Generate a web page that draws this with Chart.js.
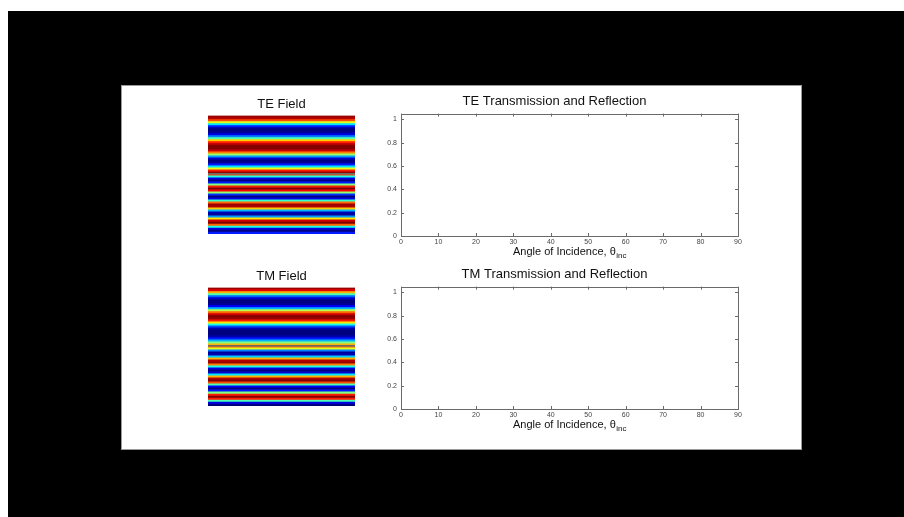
<!DOCTYPE html>
<html>
<head>
<meta charset="utf-8">
<script src="https://cdn.jsdelivr.net/npm/chart.js@4.4.0/dist/chart.umd.min.js"></script>
<style>
body { margin: 0; background: #fff; width: 904px; height: 517px; overflow: hidden; position: relative; }
#screen { position: absolute; left: 8px; top: 11px; width: 896px; height: 506px; background: #000; }
#panel { position: absolute; left: 121px; top: 85px; width: 679px; height: 363px; background: #fff; border: 1px solid #9a9a9a; }
.box { position: absolute; }
</style>
</head>
<body>
<div id="screen"></div>
<div id="panel"></div>
<div class="box" style="left:208px; top:91px; width:147px; height:143px;"><canvas id="teField"></canvas></div>
<div class="box" style="left:208px; top:263px; width:147px; height:143px;"><canvas id="tmField"></canvas></div>
<div class="box" style="left:360px; top:88px; width:400px; height:178px;"><canvas id="tePlot"></canvas></div>
<div class="box" style="left:360px; top:261px; width:400px; height:178px;"><canvas id="tmPlot"></canvas></div>
<script>
let teField = [
    0.95, 0.9, 0.6, 0.2, -0.3, -0.7, -0.95, -1, -0.95, -0.8,
    -0.5, -0.1, 0.35, 0.7, 0.9, 1, 1, 0.85, 0.5, 0.05,
    -0.45, -0.85, -1, -0.95, -0.7, -0.3, 0.2, 0.7, 0.95,
    0.6, -0.2, -0.8, -1, -0.7, 0, 0.7, 1, 0.75, 0.05,
    -0.65, -1, -0.8, -0.15, 0.55, 0.95, 0.9, 0.35, -0.4, -0.9,
    -0.95, -0.45, 0.3, 0.85, 1, 0.55, -0.2, -0.8, -1, -0.7
];
let tmField = [
    0.95, 0.8, 0.4, -0.1, -0.55, -0.85, -1, -1, -0.95, -0.75,
    -0.4, 0.1, 0.55, 0.85, 1, 0.95, 0.7, 0.3, -0.2, -0.6,
    -0.9, -1, -1, -1, -0.9, -0.7, -0.4, 0, 0.4,
    0.55, 0.2, -0.5, -0.95, -0.9, -0.35, 0.4, 0.9, 0.95, 0.5,
    -0.2, -0.8, -1, -0.85, -0.3, 0.4, 0.9, 1, 0.6, -0.1,
    -0.75, -1, -0.7, 0, 0.7, 1, 0.7, -0.1, -0.8, -1
];
// row where the layer interface (grey line) sits
let teInterfaceRow = 29;
let tmInterfaceRow = 29;

let angleTicks = [0, 10, 20, 30, 40, 50, 60, 70, 80, 90];
let fractionTicks = [0, 0.2, 0.4, 0.6, 0.8, 1];
// the curves are not drawn yet in the picture
let teTransmission = [];
let teReflection = [];
let tmTransmission = [];
let tmReflection = [];

const FONT = '"Liberation Sans", Arial, Helvetica, sans-serif';

function jet(v) {
    let t = (v + 1) / 2;
    let c = x => Math.round(255 * Math.max(0, Math.min(1, x)));
    return 'rgb(' + c(1.5 - Math.abs(4 * t - 3)) + ',' + c(1.5 - Math.abs(4 * t - 2)) + ',' + c(1.5 - Math.abs(4 * t - 1)) + ')';
}

const interfaceLine = {
    id: 'interfaceLine',
    afterDraw(chart, args, opts) {
        let y = chart.scales.y;
        let py = (y.getPixelForValue(opts.row - 1) + y.getPixelForValue(opts.row)) / 2;
        let ctx = chart.ctx;
        ctx.save();
        ctx.strokeStyle = '#6b6b6b';
        ctx.lineWidth = 1.6;
        ctx.beginPath();
        ctx.moveTo(chart.chartArea.left, py);
        ctx.lineTo(chart.chartArea.right, py);
        ctx.stroke();
        ctx.restore();
    }
};

function fieldChart(id, title, values, row) {
    new Chart(document.getElementById(id), {
        type: 'bar',
        data: {
            labels: values.map((v, i) => i),
            datasets: [{
                data: values.map(() => 1),
                backgroundColor: values.map(jet),
                borderWidth: 0,
                categoryPercentage: 1,
                barPercentage: 1
            }]
        },
        options: {
            indexAxis: 'y',
            responsive: true,
            maintainAspectRatio: false,
            animation: false,
            events: [],
            layout: { padding: 0 },
            scales: {
                x: { display: false, min: 0, max: 1 },
                y: { display: false }
            },
            plugins: {
                legend: { display: false },
                tooltip: { enabled: false },
                title: {
                    display: true,
                    text: title,
                    color: '#111',
                    font: { family: FONT, size: 13, weight: 'normal' },
                    padding: { top: 6, bottom: 3 }
                },
                interfaceLine: { row: row }
            }
        },
        plugins: [interfaceLine]
    });
}

const matlabAxes = {
    id: 'matlabAxes',
    afterDraw(chart, args, opts) {
        let ctx = chart.ctx;
        let a = chart.chartArea;
        let x = chart.scales.x, y = chart.scales.y;
        ctx.save();
        ctx.strokeStyle = '#6a6a6a';
        ctx.lineWidth = 1;
        ctx.strokeRect(Math.round(a.left) + 0.5, Math.round(a.top) + 0.5, Math.round(a.width), Math.round(a.height));
        ctx.beginPath();
        x.ticks.forEach(t => {
            let px = Math.round(x.getPixelForValue(t.value)) + 0.5;
            ctx.moveTo(px, a.bottom); ctx.lineTo(px, a.bottom - 3);
            ctx.moveTo(px, a.top); ctx.lineTo(px, a.top + 3);
        });
        y.ticks.forEach(t => {
            let py = Math.round(y.getPixelForValue(t.value)) + 0.5;
            ctx.moveTo(a.left, py); ctx.lineTo(a.left + 3, py);
            ctx.moveTo(a.right, py); ctx.lineTo(a.right - 3, py);
        });
        ctx.stroke();

        // x label with subscript
        ctx.fillStyle = '#111';
        ctx.textBaseline = 'middle';
        ctx.font = '11px ' + FONT;
        let w1 = ctx.measureText(opts.label).width;
        ctx.font = '8px ' + FONT;
        let w2 = ctx.measureText(opts.sub).width;
        let cx = (a.left + a.right) / 2;
        let sx = cx - (w1 + w2) / 2;
        let ly = a.bottom + 16;
        ctx.font = '11px ' + FONT;
        ctx.fillText(opts.label, sx, ly);
        ctx.font = '8px ' + FONT;
        ctx.fillText(opts.sub, sx + w1 + 0.5, ly + 4);
        ctx.restore();
    }
};

function plotChart(id, title, trans, refl) {
    new Chart(document.getElementById(id), {
        type: 'line',
        data: {
            datasets: [
                { label: 'Transmission', data: trans, borderColor: '#0000ff', pointRadius: 0 },
                { label: 'Reflection', data: refl, borderColor: '#ff0000', pointRadius: 0 }
            ]
        },
        options: {
            responsive: true,
            maintainAspectRatio: false,
            animation: false,
            events: [],
            layout: { padding: { left: 11, right: 22, top: 0, bottom: 0 } },
            scales: {
                x: {
                    type: 'linear',
                    min: 0,
                    max: 90,
                    afterBuildTicks: s => { s.ticks = angleTicks.map(v => ({ value: v })); },
                    afterFit: s => { s.height = 30; },
                    grid: { display: false, drawTicks: false },
                    border: { display: false },
                    ticks: { color: '#444', font: { family: FONT, size: 7 }, padding: 2, maxRotation: 0, autoSkip: false, callback: v => String(v) }
                },
                y: {
                    type: 'linear',
                    min: 0,
                    max: 1.05,
                    afterBuildTicks: s => { s.ticks = fractionTicks.map(v => ({ value: v })); },
                    afterFit: s => { s.width = 30; },
                    grid: { display: false, drawTicks: false },
                    border: { display: false },
                    ticks: { color: '#444', font: { family: FONT, size: 7 }, padding: 4, autoSkip: false, callback: v => String(v) }
                }
            },
            plugins: {
                legend: { display: false },
                tooltip: { enabled: false },
                title: {
                    display: true,
                    text: title,
                    color: '#111',
                    font: { family: FONT, size: 13, weight: 'normal' },
                    padding: { top: 6, bottom: 4 }
                },
                matlabAxes: { label: 'Angle of Incidence, θ', sub: 'inc' }
            }
        },
        plugins: [matlabAxes]
    });
}

fieldChart('teField', 'TE Field', teField, teInterfaceRow);
fieldChart('tmField', 'TM Field', tmField, tmInterfaceRow);
plotChart('tePlot', 'TE Transmission and Reflection', teTransmission, teReflection);
plotChart('tmPlot', 'TM Transmission and Reflection', tmTransmission, tmReflection);
</script>
</body>
</html>
